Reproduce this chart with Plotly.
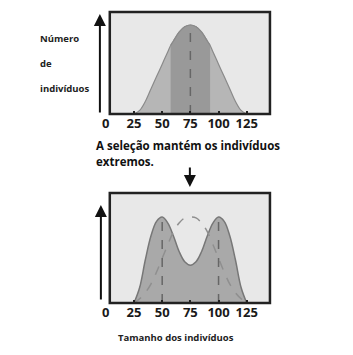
import plotly.graph_objects as go

# ---- data ----
tick_vals = [0, 25, 50, 75, 100, 125]
tick_text = ["0", "25", "50", "75", "100", "125"]

# top: original distribution
top_x = [25, 30, 35, 40, 45, 50, 55, 57.5, 60, 65, 70, 75, 80, 85, 90, 92.5, 95, 100, 105, 110, 115, 120, 125]
top_y = [0, 4, 14, 28, 42, 56, 70, 77, 82, 92, 98, 100, 98, 92, 82, 77, 70, 56, 42, 28, 14, 4, 0]
band_lo, band_hi = 57.5, 92.5
top_peak_x, top_peak_y = 75, 100

# bottom: after disruptive selection
bot_x = [25, 30, 35, 40, 45, 50, 55, 60, 65, 70, 75, 80, 85, 90, 95, 100, 105, 110, 115, 120, 125]
bot_y = [0, 18, 50, 78, 95, 100, 93, 78, 60, 48, 44, 48, 60, 78, 93, 100, 95, 78, 50, 18, 0]
bot_peaks_x = [50, 100]
bot_peaks_y = [100, 100]
# dashed original curve in the bottom panel
orig_x = [25, 30, 35, 40, 45, 50, 55, 60, 65, 70, 75, 80, 85, 90, 95, 100, 105, 110, 115, 120, 125]
orig_y = [0, 5, 12, 22, 36, 52, 68, 83, 93, 99, 100, 99, 93, 83, 68, 52, 36, 22, 12, 5, 0]

W, H = 353, 355
def px(x): return x / W
def py(y): return 1 - y / H

fig = go.Figure()

# top panel traces
fig.add_trace(go.Scatter(x=top_x, y=top_y, mode="lines", line=dict(color="#8a8a8a", width=1.2, shape="spline"),
                         fill="tozeroy", fillcolor="#b6b6b6", xaxis="x", yaxis="y", hoverinfo="skip"))
bx = [x for x in top_x if band_lo <= x <= band_hi]
by = [y for x, y in zip(top_x, top_y) if band_lo <= x <= band_hi]
fig.add_trace(go.Scatter(x=bx, y=by, mode="lines", line=dict(color="#8a8a8a", width=1.2, shape="spline"),
                         fill="tozeroy", fillcolor="#999999", xaxis="x", yaxis="y", hoverinfo="skip"))
fig.add_trace(go.Scatter(x=[top_peak_x, top_peak_x], y=[0, top_peak_y], mode="lines",
                         line=dict(color="#666666", width=1.5, dash="dash"), xaxis="x", yaxis="y"))

# bottom panel traces
fig.add_trace(go.Scatter(x=bot_x, y=bot_y, mode="lines", line=dict(color="#777777", width=1.5, shape="spline"),
                         fill="tozeroy", fillcolor="#a9a9a9", xaxis="x2", yaxis="y2", hoverinfo="skip"))
fig.add_trace(go.Scatter(x=orig_x, y=orig_y, mode="lines", line=dict(color="#8f8f8f", width=1.5, dash="dash", shape="spline"),
                         xaxis="x2", yaxis="y2"))
for xv, yv in zip(bot_peaks_x, bot_peaks_y):
    fig.add_trace(go.Scatter(x=[xv, xv], y=[0, yv], mode="lines",
                             line=dict(color="#666666", width=1.5, dash="dash"), xaxis="x2", yaxis="y2"))

xdom = [px(103), px(269)]
xrange = [0, 145.6]
tickfont = dict(family="Open Sans", size=13, color="#1a1a1a", weight="bold")
axis_x = dict(domain=xdom, range=xrange, tickvals=tick_vals, ticktext=tick_text, ticks="inside",
              ticklen=3, tickwidth=2, tickcolor="#222", showgrid=False, zeroline=False,
              showline=False, tickfont=tickfont, fixedrange=True)
fig.update_layout(
    width=W, height=H, margin=dict(l=0, r=0, t=0, b=0),
    paper_bgcolor="white", plot_bgcolor="rgba(0,0,0,0)", showlegend=False,
    xaxis=dict(axis_x, anchor="y"),
    yaxis=dict(domain=[py(114), py(12)], range=[0, 114.6], visible=False, anchor="x"),
    xaxis2=dict(axis_x, anchor="y2"),
    yaxis2=dict(domain=[py(303), py(193)], range=[0, 128], visible=False, anchor="x2"),
)

# boxes
for (y0, y1) in [(114, 12), (303, 193)]:
    fig.add_shape(type="rect", xref="paper", yref="paper", x0=px(107), x1=px(269), y0=py(y0), y1=py(y1),
                  fillcolor="#e8e8e8", line=dict(width=0), layer="below")
    fig.add_shape(type="rect", xref="paper", yref="paper", x0=px(107), x1=px(269), y0=py(y0), y1=py(y1),
                  fillcolor="rgba(0,0,0,0)", line=dict(color="#222", width=2.5), layer="above")

# arrows
def arrow(x0, y0, x1, y1):
    fig.add_annotation(xref="paper", yref="paper", x=px(x1), y=py(y1), axref="pixel", ayref="pixel",
                       ax=x0 - x1, ay=y0 - y1, showarrow=True, arrowhead=2, arrowsize=1.2,
                       arrowwidth=2, arrowcolor="#111", text="")
arrow(97, 114, 97, 14)
arrow(98, 301, 98, 205)
arrow(188, 166, 188, 187)

lblfont = dict(family="Open Sans", size=9.5, color="#222", weight="bold")
for t, y in [("Número", 39), ("de", 64), ("indivíduos", 88)]:
    fig.add_annotation(xref="paper", yref="paper", x=px(34), y=py(y), text=t, showarrow=False,
                       xanchor="left", yanchor="middle", font=lblfont)
capfont = dict(family="Open Sans", size=11.5, color="#111", weight="bold")
fig.add_annotation(xref="paper", yref="paper", x=px(91), y=py(145), text="A seleção mantém os indivíduos",
                   showarrow=False, xanchor="left", yanchor="middle", font=capfont)
fig.add_annotation(xref="paper", yref="paper", x=px(91), y=py(161), text="extremos.",
                   showarrow=False, xanchor="left", yanchor="middle", font=capfont)
fig.add_annotation(xref="paper", yref="paper", x=px(174), y=py(337), text="Tamanho dos indivíduos",
                   showarrow=False, xanchor="center", yanchor="middle",
                   font=dict(family="Open Sans", size=9.5, color="#222", weight="bold"))

fig.write_html("out.html")
